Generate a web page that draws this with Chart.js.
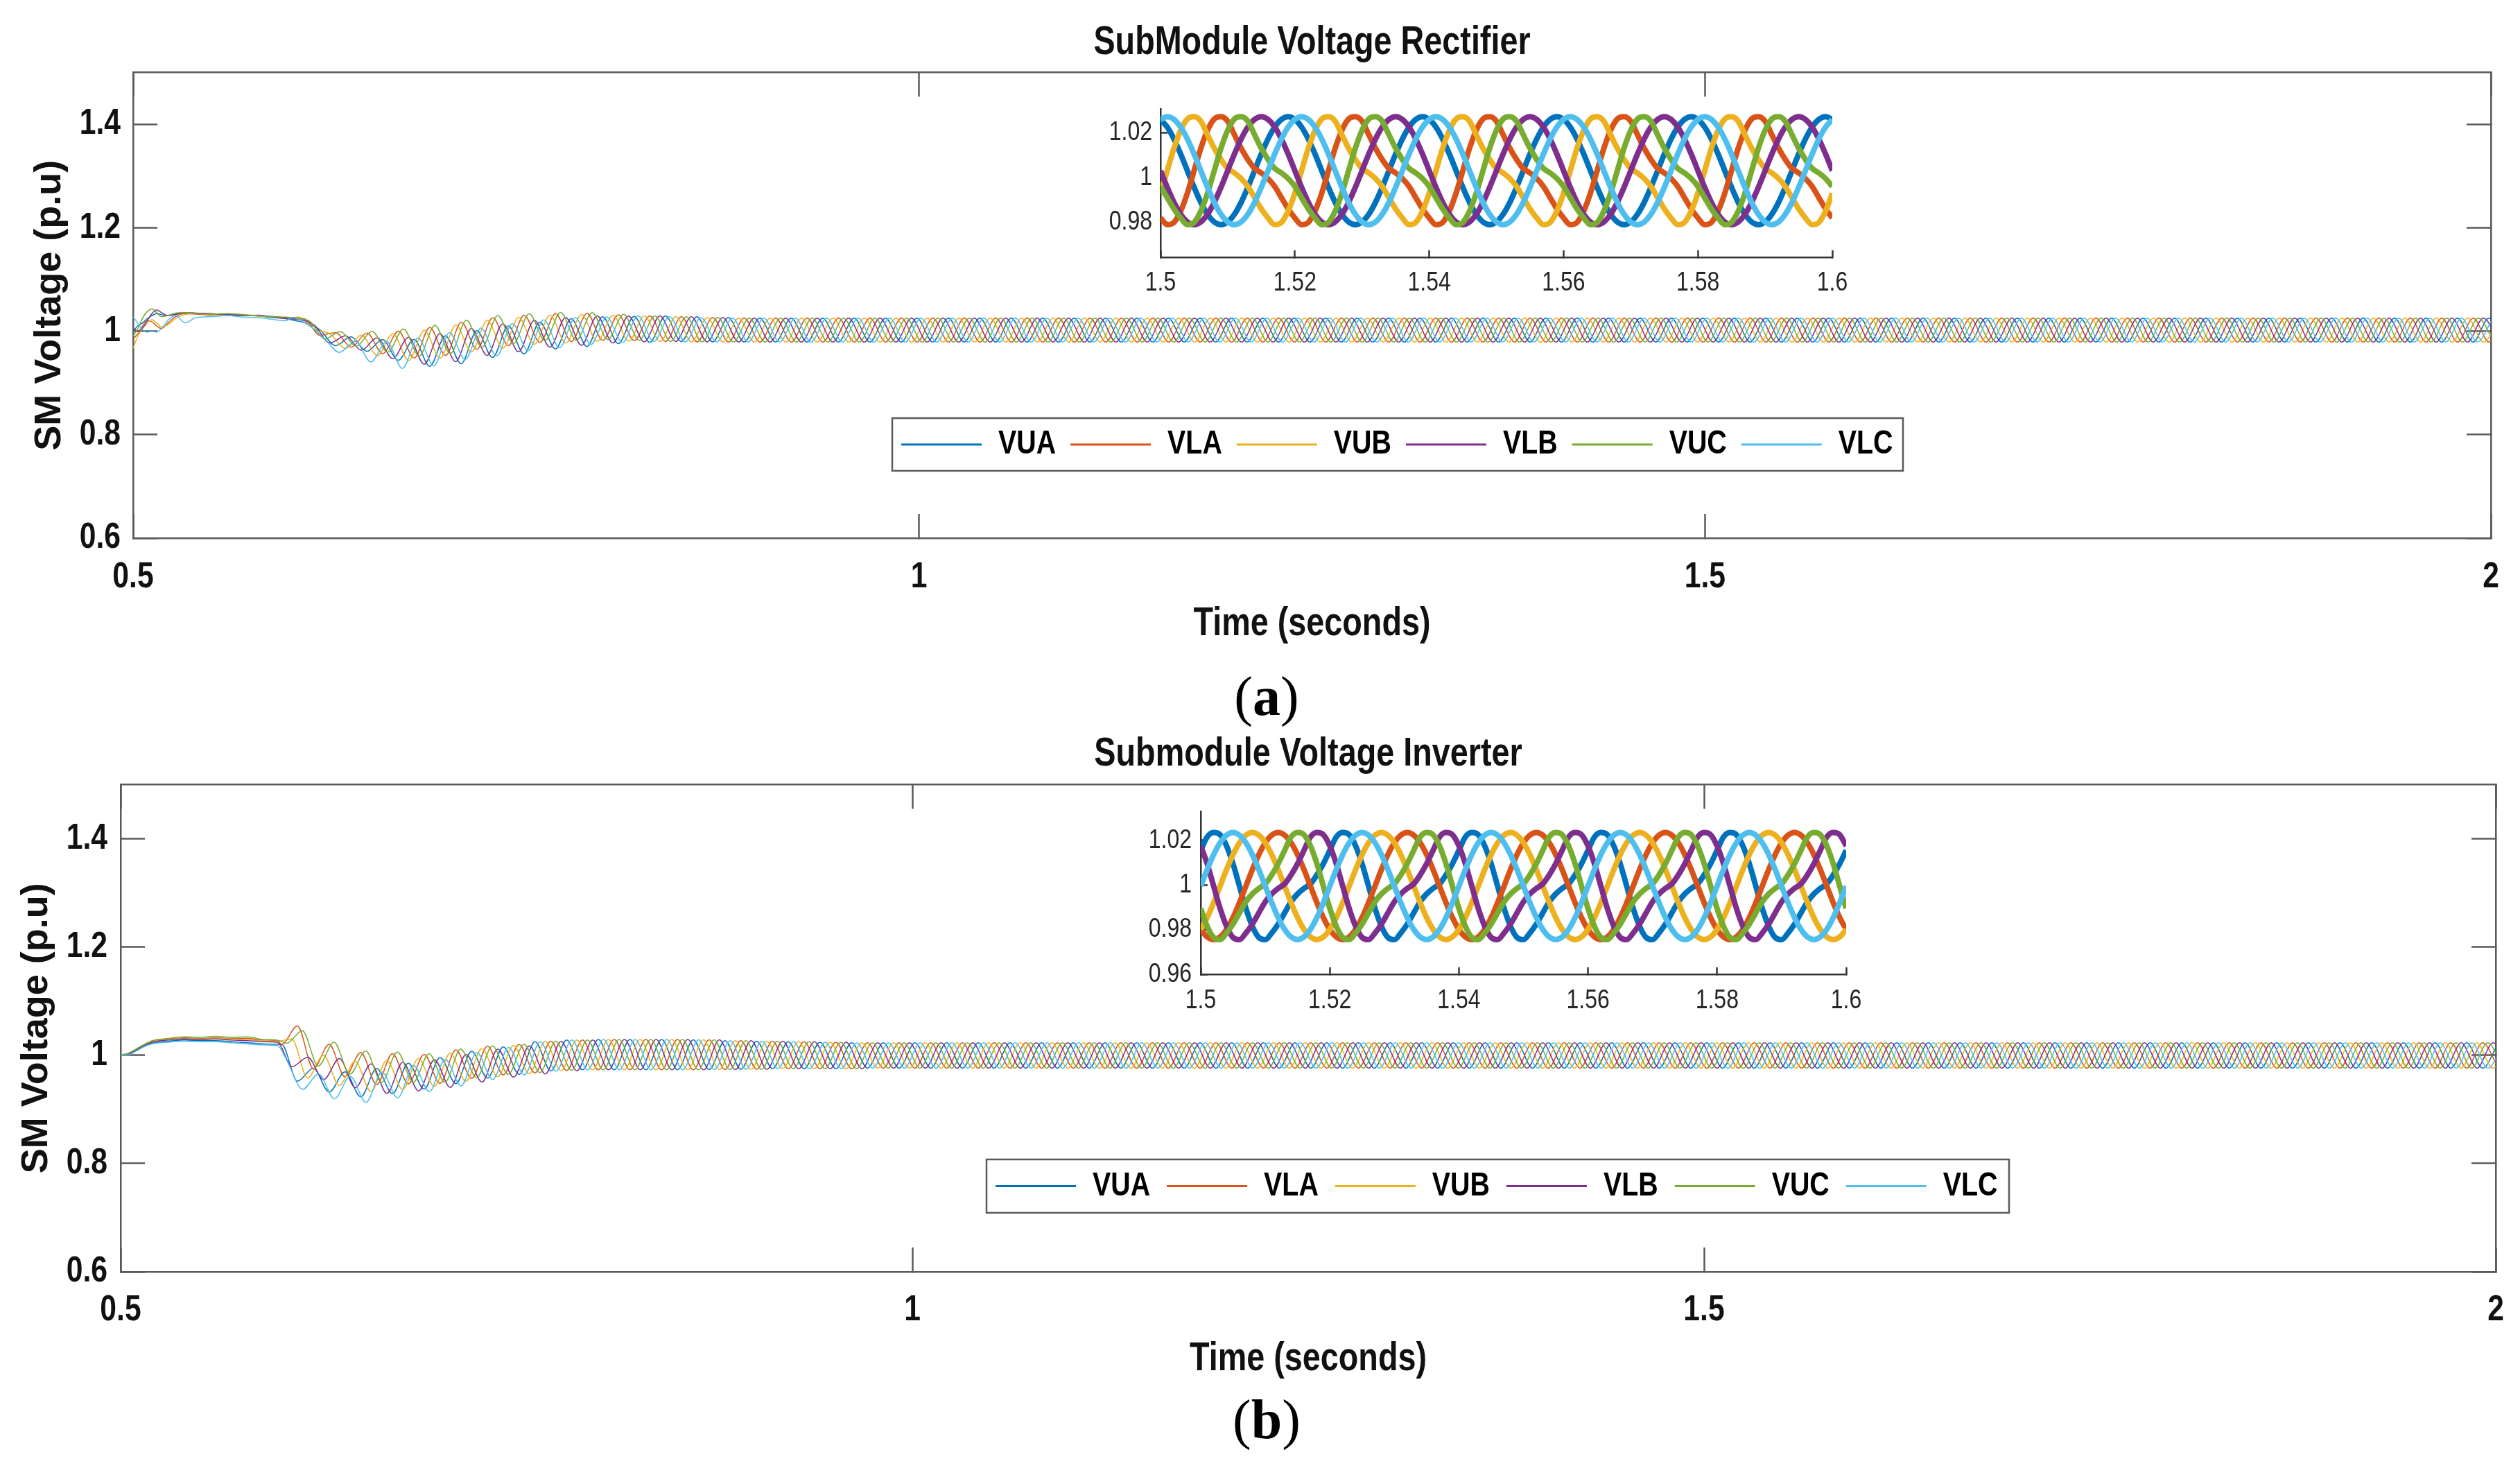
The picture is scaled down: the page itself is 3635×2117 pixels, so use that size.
<!DOCTYPE html>
<html>
<head>
<meta charset="utf-8">
<script src="https://cdn.jsdelivr.net/npm/chart.js@4.4.1/dist/chart.umd.min.js"></script>
<style>
html,body{margin:0;padding:0;background:#fff;}
#page{position:relative;width:3635px;height:2117px;overflow:hidden;background:#fff;}
.box{position:absolute;}
canvas{display:block;}
.lbl{position:absolute;font-family:'Liberation Serif','Times New Roman',serif;font-size:80px;line-height:1;transform:translate(-50%,-50%);color:#000;white-space:nowrap;}
.lbl b{font-weight:bold;}
</style>
</head>
<body>
<div id="page">
  <div class="box" style="left:0;top:0;width:3635px;height:960px"><canvas id="mainA" width="3635" height="960"></canvas></div>
  <div class="box" style="left:1540px;top:140px;width:1130px;height:300px"><canvas id="zoomA" width="1130" height="300"></canvas></div>
  <div class="lbl" style="left:1827px;top:1004px">(<b>a</b>)</div>
  <div class="box" style="left:0;top:1030px;width:3635px;height:970px"><canvas id="mainB" width="3635" height="970"></canvas></div>
  <div class="box" style="left:1590px;top:1150px;width:1100px;height:330px"><canvas id="zoomB" width="1100" height="330"></canvas></div>
  <div class="lbl" style="left:1827px;top:2047px">(<b>b</b>)</div>
</div>
<script>
// ---------------- DATA ----------------
const seriesNames = ['VUA', 'VLA', 'VUB', 'VLB', 'VUC', 'VLC'];
const seriesColors = ['#0072BD', '#D95319', '#EDB120', '#7E2F8E', '#77AC30', '#4DBEEE'];

const mainXTicks = [0.5, 1, 1.5, 2];
const mainYTicks = [0.6, 0.8, 1, 1.2, 1.4];
const zoomXTicks = [1.5, 1.52, 1.54, 1.56, 1.58, 1.6];
const zoomAYTicks = [0.98, 1, 1.02];
const zoomBYTicks = [0.96, 0.98, 1, 1.02];

// (a) Rectifier: start-up segment (shared sample times)
const rectPreT = [0.5, 0.503, 0.506, 0.509, 0.512, 0.515, 0.518, 0.522, 0.527, 0.533, 0.54, 0.55, 0.56, 0.57, 0.58, 0.59, 0.597];
const rectPre_VUA = [1.0, 1.01, 1.016, 1.024, 1.03, 1.034, 1.032, 1.03, 1.033, 1.035, 1.034, 1.032, 1.033, 1.031, 1.029, 1.026, 1.024];
const rectPre_VLA = [0.985, 0.995, 1.01, 1.02, 1.018, 1.01, 1.005, 1.015, 1.028, 1.034, 1.033, 1.031, 1.032, 1.03, 1.03, 1.027, 1.025];
const rectPre_VUB = [0.967, 0.99, 1.005, 1.015, 1.022, 1.016, 1.008, 1.012, 1.024, 1.032, 1.034, 1.032, 1.03, 1.031, 1.029, 1.028, 1.026];
const rectPre_VLB = [1.005, 1.0, 1.006, 1.02, 1.034, 1.041, 1.036, 1.03, 1.032, 1.036, 1.035, 1.034, 1.032, 1.03, 1.031, 1.027, 1.025];
const rectPre_VUC = [0.99, 1.005, 1.025, 1.038, 1.043, 1.036, 1.028, 1.03, 1.035, 1.036, 1.034, 1.033, 1.034, 1.032, 1.03, 1.028, 1.027];
const rectPre_VLC = [1.028, 1.015, 1.003, 0.998, 1.0, 0.998, 1.005, 1.02, 1.03, 1.016, 1.026, 1.028, 1.03, 1.027, 1.026, 1.022, 1.02];
// time of the first extremum (peak) of each series after 0.6 s
const rectFirstExt = [0.6187, 0.6088, 0.6053, 0.6152, 0.6120, 0.6013];
// successive extremes (peak, trough, peak, ...) every half cycle
const rectOsc_VUA = [1.003, 0.972, 0.989, 0.961, 0.9836, 0.9436, 0.984, 0.932, 0.991, 0.937, 1.001, 0.949, 1.010, 0.956, 1.0176, 0.9656, 1.0242, 0.9702, 1.0278, 0.9758, 1.0284, 0.9784];
const rectOsc_VLA = [1.024, 0.992, 0.997, 0.969, 0.9964, 0.9564, 1.000, 0.948, 1.007, 0.953, 1.017, 0.965, 1.026, 0.972, 1.0304, 0.9784, 1.0338, 0.9798, 1.0342, 0.9822, 1.0316, 0.9816];
const rectOsc_VUB = [1.027, 1.004, 0.9945, 0.9665, 0.9924, 0.9524, 0.995, 0.943, 1.002, 0.948, 1.012, 0.960, 1.021, 0.967, 1.0264, 0.9744, 1.0308, 0.9768, 1.0322, 0.9802, 1.0306, 0.9806];
const rectOsc_VLB = [1.012, 0.977, 0.991, 0.963, 0.9868, 0.9468, 0.988, 0.936, 0.995, 0.941, 1.005, 0.953, 1.014, 0.960, 1.0208, 0.9688, 1.0266, 0.9726, 1.0294, 0.9774, 1.0292, 0.9792];
const rectOsc_VUC = [1.02, 0.985, 0.999, 0.971, 0.9996, 0.9596, 1.004, 0.952, 1.011, 0.957, 1.021, 0.969, 1.030, 0.976, 1.0336, 0.9816, 1.0362, 0.9822, 1.0358, 0.9838, 1.0324, 0.9824];
const rectOsc_VLC = [1.026, 1.012, 0.987, 0.959, 0.9804, 0.9404, 0.980, 0.928, 0.987, 0.933, 0.997, 0.945, 1.006, 0.952, 1.0144, 0.9624, 1.0218, 0.9678, 1.0262, 0.9742, 1.0276, 0.9776];
const rectSettle = [1.0295, 0.980, 1.0277, 0.9793, 1.026, 0.979, 1.025, 0.979];
const rectSteady = [1.025, 0.979];

// (b) Inverter
const invPreT = [0.5, 0.505, 0.51, 0.515, 0.52, 0.53, 0.54, 0.55, 0.56, 0.57, 0.58, 0.59, 0.599];
const invPre_VUA = [1.0, 1.002, 1.009, 1.017, 1.022, 1.026, 1.028, 1.027, 1.027, 1.025, 1.023, 1.021, 1.02];
const invPre_VLA = [1.0, 1.003, 1.011, 1.02, 1.026, 1.03, 1.032, 1.031, 1.032, 1.031, 1.031, 1.028, 1.027];
const invPre_VUB = [1.0, 1.003, 1.011, 1.019, 1.025, 1.029, 1.031, 1.03, 1.031, 1.03, 1.029, 1.027, 1.026];
const invPre_VLB = [1.0, 1.002, 1.01, 1.018, 1.024, 1.028, 1.03, 1.029, 1.03, 1.028, 1.027, 1.025, 1.024];
const invPre_VUC = [1.0, 1.004, 1.012, 1.02, 1.027, 1.031, 1.034, 1.033, 1.035, 1.033, 1.034, 1.029, 1.028];
const invPre_VLC = [1.0, 1.001, 1.008, 1.016, 1.021, 1.024, 1.026, 1.025, 1.025, 1.023, 1.021, 1.019, 1.018];
const invFirstExt = [0.6017, 0.6017, 0.6081, 0.6082, 0.6048, 0.6050];
const invOsc_VUA = [1.02, 0.952, 0.976, 0.932, 0.9692, 0.9232, 0.9755, 0.929, 0.9852, 0.9374, 0.9958, 0.9476, 1.0073, 0.9577, 1.0155, 0.9645, 1.025, 0.971];
const invOsc_VLA = [1.02, 1.054, 0.975, 1.020, 0.960, 1.005, 0.9458, 1.003, 0.947, 1.0015, 0.948, 1.010, 0.957, 1.0165, 0.9637, 1.0197, 0.9673, 1.0258, 0.9718];
const invOsc_VUB = [1.03, 0.958, 1.0, 0.944, 0.9888, 0.9328, 0.9907, 0.9367, 0.994, 0.942, 1.0036, 0.9516, 1.0123, 0.9603, 1.0178, 0.9658, 1.0255, 0.9715];
const invOsc_VLB = [0.979, 0.996, 0.955, 0.994, 0.940, 0.9841, 0.9295, 0.987, 0.934, 0.9918, 0.9404, 1.0017, 0.9503, 1.0111, 0.9595, 1.0172, 0.9654, 1.0255, 0.9712];
const invOsc_VUC = [1.022, 1.045, 0.98, 1.024, 0.965, 1.008, 0.950, 1.006, 0.950, 1.003, 0.950, 1.0114, 0.9586, 1.0173, 0.9647, 1.0201, 0.9679, 1.026, 0.972];
const invOsc_VLC = [0.99, 0.937, 0.9655, 0.9195, 0.9608, 0.913, 0.9689, 0.9211, 0.9811, 0.9327, 0.9924, 0.9434, 1.0051, 0.9551, 1.0145, 0.9635, 1.025, 0.9705];
const invSettle = [1.028, 0.973, 1.029, 0.973, 1.029, 0.973, 1.029, 0.973, 1.0285, 0.9735, 1.027, 0.974, 1.026, 0.975, 1.025, 0.975, 1.024, 0.975, 1.023, 0.976, 1.023, 0.976];
const invSteady = [1.023, 0.976];

// zoomed windows 1.5–1.6 s : one 20 ms cycle sampled every 1 ms, starting at 1.5 s
const rectZoom_VUA = [1.0258, 1.0224, 1.0171, 1.0104, 1.003, 0.9956, 0.9889, 0.9836, 0.9802, 0.979, 0.9802, 0.9836, 0.9889, 0.9956, 1.003, 1.0104, 1.0171, 1.0224, 1.0258, 1.027];
const rectZoom_VLA = [0.982, 0.979, 0.980, 0.985, 0.993, 1.003, 1.013, 1.021, 1.026, 1.027, 1.025, 1.019, 1.013, 1.008, 1.004, 1.002, 0.9995, 0.996, 0.991, 0.986];
const rectZoom_VUB = [0.993, 1.003, 1.013, 1.021, 1.026, 1.027, 1.025, 1.019, 1.013, 1.008, 1.004, 1.002, 0.9995, 0.996, 0.991, 0.986, 0.982, 0.979, 0.980, 0.985];
const rectZoom_VLB = [1.003, 0.9956, 0.9889, 0.9836, 0.9802, 0.979, 0.9802, 0.9836, 0.9889, 0.9956, 1.003, 1.0104, 1.0171, 1.0224, 1.0258, 1.027, 1.0258, 1.0224, 1.0171, 1.0104];
const rectZoom_VUC = [0.996, 0.991, 0.986, 0.982, 0.979, 0.980, 0.985, 0.993, 1.003, 1.013, 1.021, 1.026, 1.027, 1.025, 1.019, 1.013, 1.008, 1.004, 1.002, 0.9995];
const rectZoom_VLC = [1.0258, 1.027, 1.0258, 1.0224, 1.0171, 1.0104, 1.003, 0.9956, 0.9889, 0.9836, 0.9802, 0.979, 0.9802, 0.9836, 0.9889, 0.9956, 1.003, 1.0104, 1.0171, 1.0224];

const invZoom_VUA = [1.0155, 1.0215, 1.0235, 1.0225, 1.0175, 1.0095, 0.9995, 0.9895, 0.9815, 0.9765, 0.9755, 0.9785, 0.9825, 0.9875, 0.9925, 0.996, 0.9985, 1.0005, 1.0045, 1.0095];
const invZoom_VLA = [0.9801, 0.9767, 0.9755, 0.9767, 0.9801, 0.9854, 0.9921, 0.9995, 1.0069, 1.0136, 1.0189, 1.0223, 1.0235, 1.0223, 1.0189, 1.0136, 1.0069, 0.9995, 0.9921, 0.9854];
const invZoom_VUB = [0.9801, 0.9854, 0.9921, 0.9995, 1.0069, 1.0136, 1.0189, 1.0223, 1.0235, 1.0223, 1.0189, 1.0136, 1.0069, 0.9995, 0.9921, 0.9854, 0.9801, 0.9767, 0.9755, 0.9767];
const invZoom_VLB = [1.0175, 1.0095, 0.9995, 0.9895, 0.9815, 0.9765, 0.9755, 0.9785, 0.9825, 0.9875, 0.9925, 0.996, 0.9985, 1.0005, 1.0045, 1.0095, 1.0155, 1.0215, 1.0235, 1.0225];
const invZoom_VUC = [0.9895, 0.9815, 0.9765, 0.9755, 0.9785, 0.9825, 0.9875, 0.9925, 0.996, 0.9985, 1.0005, 1.0045, 1.0095, 1.0155, 1.0215, 1.0235, 1.0225, 1.0175, 1.0095, 0.9995];
const invZoom_VLC = [0.9995, 1.0069, 1.0136, 1.0189, 1.0223, 1.0235, 1.0223, 1.0189, 1.0136, 1.0069, 0.9995, 0.9921, 0.9854, 0.9801, 0.9767, 0.9755, 0.9767, 0.9801, 0.9854, 0.9921];

const HALF_CYCLE = 0.01;   // 50 Hz -> extremes every 10 ms
const CYCLE = 0.02;

// ---------------- BUILD SERIES ----------------
function buildMain(preT, pre, firstExt, osc, settle, steady, tEnd) {
  const pts = preT.map((t, j) => ({x: t, y: pre[j]}));
  let t = firstExt;
  for (const v of osc) { pts.push({x: t, y: v}); t += HALF_CYCLE; }
  for (const v of settle) { pts.push({x: t, y: v}); t += HALF_CYCLE; }
  let j = 0;
  while (t <= tEnd + HALF_CYCLE) { pts.push({x: t, y: steady[j % 2]}); t += HALF_CYCLE; j++; }
  return pts;
}
function buildZoom(cycle, t0, t1) {
  const pts = [];
  const dt = CYCLE / cycle.length;
  for (let i = 0; t0 + i * dt <= t1 + 1e-9; i++) pts.push({x: t0 + i * dt, y: cycle[i % cycle.length]});
  return pts;
}

const rectPre = [rectPre_VUA, rectPre_VLA, rectPre_VUB, rectPre_VLB, rectPre_VUC, rectPre_VLC];
const rectOsc = [rectOsc_VUA, rectOsc_VLA, rectOsc_VUB, rectOsc_VLB, rectOsc_VUC, rectOsc_VLC];
const invPre = [invPre_VUA, invPre_VLA, invPre_VUB, invPre_VLB, invPre_VUC, invPre_VLC];
const invOsc = [invOsc_VUA, invOsc_VLA, invOsc_VUB, invOsc_VLB, invOsc_VUC, invOsc_VLC];
const rectZoom = [rectZoom_VUA, rectZoom_VLA, rectZoom_VUB, rectZoom_VLB, rectZoom_VUC, rectZoom_VLC];
const invZoom = [invZoom_VUA, invZoom_VLA, invZoom_VUB, invZoom_VLB, invZoom_VUC, invZoom_VLC];

// ---------------- STYLE ----------------
// "CondensedFace" is only a marker: text in this family is drawn with Liberation Sans,
// horizontally condensed like the narrow font of the original figure.
const NARROW_MARK = 'CondensedFace';
const NARROW = "CondensedFace, 'Liberation Sans', Arial, sans-serif";
const SANS = "'Liberation Sans', Arial, sans-serif";
const CONDENSE = 0.82;
const AX = '#5a5a5a';
const TXT = '#111111';
Chart.defaults.color = TXT;
Chart.defaults.font.family = NARROW;

function condenseText(canvas) {
  const ctx = canvas.getContext('2d');
  const fill = ctx.fillText.bind(ctx);
  const measure = ctx.measureText.bind(ctx);
  const narrow = () => ctx.font.indexOf(NARROW_MARK) >= 0;
  ctx.fillText = function (text, x, y, maxWidth) {
    if (!narrow()) return maxWidth === undefined ? fill(text, x, y) : fill(text, x, y, maxWidth);
    ctx.save();
    ctx.translate(x, y);
    ctx.scale(CONDENSE, 1);
    fill(text, 0, 0);
    ctx.restore();
  };
  ctx.measureText = function (text) {
    const m = measure(text);
    if (!narrow()) return m;
    return {
      width: m.width * CONDENSE,
      actualBoundingBoxLeft: m.actualBoundingBoxLeft * CONDENSE,
      actualBoundingBoxRight: m.actualBoundingBoxRight * CONDENSE,
      actualBoundingBoxAscent: m.actualBoundingBoxAscent,
      actualBoundingBoxDescent: m.actualBoundingBoxDescent,
      fontBoundingBoxAscent: m.fontBoundingBoxAscent,
      fontBoundingBoxDescent: m.fontBoundingBoxDescent
    };
  };
  return canvas;
}

function datasets(seriesData, width) {
  return seriesNames.map((name, i) => ({
    label: name,
    data: seriesData[i],
    borderColor: seriesColors[i],
    backgroundColor: seriesColors[i],
    borderWidth: width,
    pointRadius: 0,
    pointHoverRadius: 0,
    pointHitRadius: 0,
    fill: false,
    cubicInterpolationMode: 'monotone',
    borderJoinStyle: 'round',
    order: seriesNames.length - i
  }));
}

function axis(o) {
  return {
    type: 'linear',
    position: o.position,
    min: o.min, max: o.max,
    afterBuildTicks: (s) => { s.ticks = o.ticks.map(v => ({value: v})); },
    afterFit: (s) => {
      if (o.horizontal) s.height = o.size; else s.width = o.size;
      s.paddingLeft = 0; s.paddingRight = 0; s.paddingTop = 0; s.paddingBottom = 0;
    },
    ticks: {
      display: o.labels !== false,
      autoSkip: false, maxRotation: 0, minRotation: 0,
      padding: o.tickPad || 0,
      color: o.tickColor || TXT,
      font: o.tickFont,
      callback: (v) => String(v)
    },
    grid: {display: true, drawOnChartArea: false, drawTicks: true, tickLength: -o.tickLen, tickWidth: o.lineW, tickColor: o.axColor || AX},
    border: {display: true, color: o.axColor || AX, width: o.lineW},
    title: o.title ? {display: true, text: o.title, font: o.titleFont, color: TXT, padding: o.titlePad} : {display: false}
  };
}

const legendPlacer = {
  id: 'legendPlacer',
  afterInit(chart) {
    const lg = chart.legend;
    if (!lg) return;
    const fit = lg.fit;
    lg.fit = function () { fit.call(this); this.height = 0; };
  },
  afterUpdate(chart, args, o) {
    const lg = chart.legend;
    if (!lg || !o || o.left == null) return;
    lg.left = o.left + o.inset - o.pad;
    lg.right = chart.width;
    lg.top = (o.top + o.bottom) / 2 - o.pad - o.fontSize / 2;
    lg.bottom = o.bottom + 10;
    lg.width = lg.right - lg.left;
    lg.height = lg.bottom - lg.top;
  },
  afterDraw(chart, args, o) {
    if (!o || o.left == null) return;
    const ctx = chart.ctx;
    ctx.save();
    ctx.strokeStyle = o.color;
    ctx.lineWidth = o.lineWidth;
    ctx.strokeRect(o.left, o.top, o.right - o.left, o.bottom - o.top);
    ctx.restore();
  }
};

function legendOpts(pad) {
  return {
    display: true, position: 'top', align: 'start',
    labels: {
      usePointStyle: true, pointStyle: 'line', pointStyleWidth: 116,
      padding: pad, color: '#000',
      font: {family: NARROW, size: 48, weight: 'bold'},
      sort: (a, b) => a.datasetIndex - b.datasetIndex,
      generateLabels: (chart) => {
        const items = Chart.defaults.plugins.legend.labels.generateLabels(chart);
        items.forEach(it => { it.lineWidth = 3; });
        return items;
      }
    }
  };
}

function mainChart(id, cfg) {
  const tickFont = {family: NARROW, size: 52, weight: 'bold'};
  return new Chart(condenseText(document.getElementById(id)), {
    type: 'line',
    data: {datasets: datasets(cfg.series, 1.5)},
    options: {
      responsive: false, maintainAspectRatio: false, animation: false, devicePixelRatio: 1,
      normalized: true,
      events: [],
      layout: {padding: cfg.padding},
      plugins: {
        title: {display: true, text: cfg.title, fullSize: false, color: TXT,
          font: {family: NARROW, size: 57, weight: 'bold'}, padding: cfg.titlePad},
        legend: legendOpts(cfg.legendPad),
        tooltip: {enabled: false},
        legendPlacer: Object.assign({inset: 13, pad: cfg.legendPad, fontSize: 48, color: AX, lineWidth: 2.5}, cfg.legendBox)
      },
      scales: {
        x: axis({position: 'bottom', horizontal: true, min: 0.5, max: 2, ticks: mainXTicks, size: 160, tickPad: cfg.xTickPad,
          tickFont, tickLen: 35, lineW: 2.5, title: 'Time (seconds)', titleFont: {family: NARROW, size: 57, weight: 'bold'},
          titlePad: {top: 0, bottom: cfg.xTitlePad}}),
        y: axis({position: 'left', min: 0.6, max: 1.5, ticks: mainYTicks, size: cfg.yWidth, tickPad: cfg.yTickPad,
          tickFont, tickLen: 35, lineW: 2.5, title: 'SM Voltage (p.u)', titleFont: {family: SANS, size: 54, weight: 'bold'},
          titlePad: {top: cfg.yTitlePad, bottom: 0}}),
        x2: axis({position: 'top', horizontal: true, min: 0.5, max: 2, ticks: mainXTicks, size: 0, labels: false, tickFont, tickLen: 35, lineW: 2.5}),
        y2: axis({position: 'right', min: 0.6, max: 1.5, ticks: mainYTicks, size: 0, labels: false, tickFont, tickLen: 35, lineW: 2.5})
      }
    },
    plugins: [legendPlacer]
  });
}

function zoomChart(id, cfg) {
  const tickFont = {family: NARROW, size: 39, weight: 'normal'};
  return new Chart(condenseText(document.getElementById(id)), {
    type: 'line',
    data: {datasets: datasets(cfg.series, 8)},
    options: {
      responsive: false, maintainAspectRatio: false, animation: false, devicePixelRatio: 1,
      normalized: true,
      events: [],
      layout: {padding: cfg.padding},
      plugins: {legend: {display: false}, title: {display: false}, tooltip: {enabled: false}},
      scales: {
        x: axis({position: 'bottom', horizontal: true, min: 1.5, max: 1.6, ticks: zoomXTicks, size: cfg.xHeight, tickPad: cfg.xTickPad,
          tickFont, tickColor: '#262626', tickLen: 10, lineW: 2.5, axColor: '#333'}),
        y: axis({position: 'left', min: cfg.ymin, max: cfg.ymax, ticks: cfg.yTicks, size: cfg.yWidth, tickPad: cfg.yTickPad,
          tickFont, tickColor: '#262626', tickLen: 10, lineW: 2.5, axColor: '#333'})
      }
    }
  });
}

mainChart('mainA', {
  series: seriesNames.map((n, i) => buildMain(rectPreT, rectPre[i], rectFirstExt[i], rectOsc[i], rectSettle, rectSteady, 2)),
  title: 'SubModule Voltage Rectifier',
  padding: {left: 0, right: 42, top: 0, bottom: 24},
  titlePad: {top: 28, bottom: 8},
  xTickPad: 60, xTitlePad: 2,
  yWidth: 192, yTickPad: 53, yTitlePad: 40,
  legendPad: 21,
  legendBox: {left: 1287, top: 603, right: 2745, bottom: 679}
});

mainChart('mainB', {
  series: seriesNames.map((n, i) => buildMain(invPreT, invPre[i], invFirstExt[i], invOsc[i], invSettle, invSteady, 2)),
  title: 'Submodule Voltage Inverter',
  padding: {left: 0, right: 35, top: 0, bottom: 6},
  titlePad: {top: 24, bottom: 9},
  xTickPad: 59, xTitlePad: 0,
  yWidth: 174, yTickPad: 54, yTitlePad: 21,
  legendPad: 24,
  legendBox: {left: 1423, top: 642, right: 2898, bottom: 719}
});

zoomChart('zoomA', {
  series: rectZoom.map(c => buildZoom(c, 1.5, 1.6)),
  padding: {left: 0, right: 27, top: 17, bottom: 0},
  xHeight: 69, xTickPad: 24, yWidth: 134, yTickPad: 22,
  ymin: 0.9645, ymax: 1.0305, yTicks: zoomAYTicks
});

zoomChart('zoomB', {
  series: invZoom.map(c => buildZoom(c, 1.5, 1.6)),
  padding: {left: 0, right: 27, top: 20, bottom: 0},
  xHeight: 75, xTickPad: 25, yWidth: 142, yTickPad: 23,
  ymin: 0.96, ymax: 1.033, yTicks: zoomBYTicks
});
</script>
</body>
</html>
